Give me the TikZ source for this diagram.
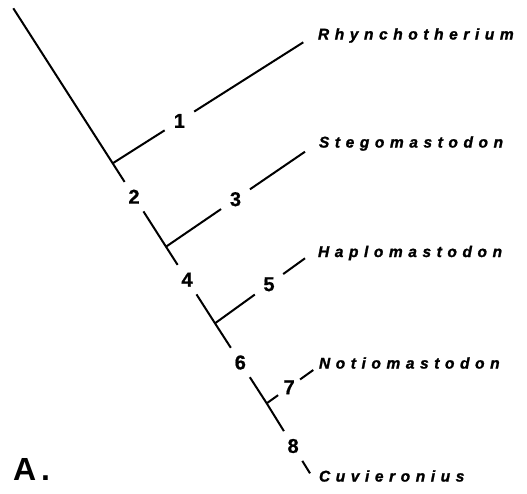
\documentclass[tikz,border=0pt]{standalone}
\usepackage{fontspec}
\setmainfont{Liberation Sans}
\newfontfamily\taxfont[LetterSpace=36,FakeBold=1.5]{Liberation Sans Bold Italic}
\newfontfamily\numfont[FakeBold=0.8]{Liberation Sans Bold}
\usetikzlibrary{positioning,calc}
\newcommand{\lw}{2pt}
\newcommand{\mnum}[4][num]{
  \node [#1] at #2 (#4) {#3};
}
\newcommand{\mtaxon}[3]{
  \node [taxon] at #1 (#3) {#2};
}

\begin{document}
\begin{tikzpicture}[x=1pt,y=-1pt,line width=\lw,
  num/.style={circle,inner sep=0pt,minimum size=33pt,font=\numfont\fontsize{20}{20}\selectfont},
  smallnum/.style={num,minimum size=25pt},
  taxon/.style={anchor=west,inner sep=0pt,font=\taxfont\fontsize{15.5}{16}\selectfont}]
  \useasboundingbox (0,0) rectangle (527,493);

  % trunk and branch points
  \coordinate (top) at (13.3,8.3);
  \coordinate (j1) at (112.7,163.3);
  \coordinate (j3) at (166,246.7);
  \coordinate (j5) at (215,323.3);
  \coordinate (j7) at (266.7,403.3);
  \coordinate (tip8) at (310,473.3);
  \coordinate (tip1) at (303.3,42.3);
  \coordinate (tip3) at (305,151.7);
  \coordinate (tip5) at (305,258.3);
  \coordinate (tip7) at (313.3,370);

  \mnum{($(j1)!0.35!(tip1)$)}{1}{n1}
  \mnum{($(j1)!0.40!(j3)$)}{2}{n2}
  \mnum{($(j3)!0.50!(tip3)$)}{3}{n3}
  \mnum{($(j3)!0.43!(j5)$)}{4}{n4}
  \mnum{($(j5)!0.60!(tip5)$)}{5}{n5}
  \mnum{($(j5)!0.49!(j7)$)}{6}{n6}
  \mnum[smallnum]{($(j7)!0.48!(tip7)$)}{7}{n7}
  \mnum{($(j7)!0.61!(tip8)$)}{8}{n8}

  \mtaxon{(317,35.5)}{Rhynchotherium}{rhy}
  \mtaxon{(318,143.5)}{Stegomastodon}{steg}
  \mtaxon{(317,253)}{Haplomastodon}{hap}
  \mtaxon{(318,363)}{Notiomastodon}{noti}
  \mtaxon{(318,476)}{Cuvieronius}{cuv}

  \draw (top) -- (j1) -- (n2) -- (j3) -- (n4) -- (j5) -- (n6) -- (j7) -- (n8) -- (tip8);
  \draw (j1) -- (n1) -- (tip1);
  \draw (j3) -- (n3) -- (tip3);
  \draw (j5) -- (n5) -- (tip5);
  \draw (j7) -- (n7) -- (tip7);

  \node [anchor=west,inner sep=0pt,font=\fontsize{32}{32}\selectfont\bfseries] at (12,469) (panel) {A\kern5pt.};
\end{tikzpicture}
\end{document}
